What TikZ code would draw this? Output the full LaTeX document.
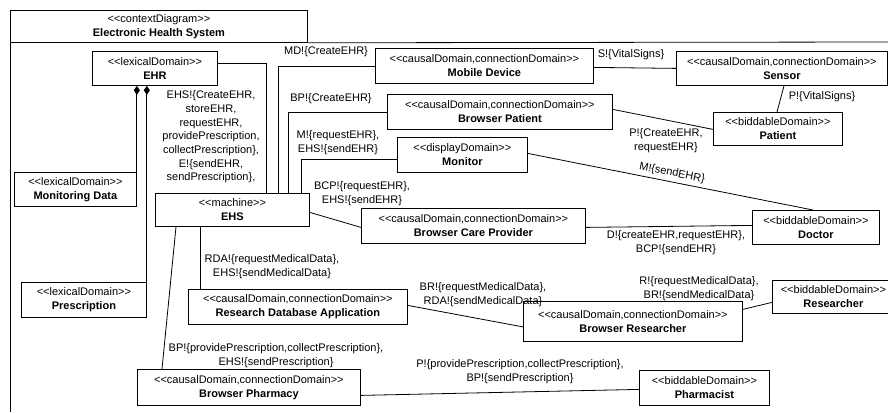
\documentclass[tikz,border=0pt]{standalone}
\usepackage{fontspec}
\setmainfont{Liberation Sans}
\usetikzlibrary{arrows.meta}
\newcommand\stereo[1]{<\kern0pt<#1>\kern0pt>}
\newcommand\fs{\fontsize{11}{13.7}\selectfont}
\begin{document}
\begin{tikzpicture}[x=1pt,y=-1pt,
  dom/.style={draw, line width=0.8pt, anchor=north west, inner sep=0pt, align=center, font=\fs},
  conn/.style={line width=0.8pt},
  lbl/.style={inner sep=0pt, align=center, font=\fs},
  diam/.style={conn, {Diamond[length=9pt,width=6pt]}-}]
\useasboundingbox (0,0) rectangle (888,412);
% frame
\node[dom, minimum width=297pt, minimum height=32pt] (hdr) at (10,10) {\stereo{contextDiagram}\\\textbf{Electronic Health System}};
\coordinate (fr) at (888,42);
\coordinate (fb) at (10,412);
\draw[conn] (hdr.south east) -- (fr);
\draw[conn] (hdr.south west) -- (fb);
% boxes
\node[dom, minimum width=125pt, minimum height=34pt] (ehr) at (92,51) {\stereo{lexicalDomain}\\\textbf{EHR}};
\node[dom, minimum width=122pt, minimum height=34pt] (mdata) at (14,172) {\stereo{lexicalDomain}\\\textbf{Monitoring Data}};
\node[dom, minimum width=125pt, minimum height=35pt] (pr) at (21,282) {\stereo{lexicalDomain}\\\textbf{Prescription}};
\node[dom, minimum width=154pt, minimum height=33pt] (ehs) at (155,193) {\stereo{machine}\\\textbf{EHS}};
\node[dom, minimum width=218pt, minimum height=35pt] (mob) at (375,48) {\stereo{causalDomain,connectionDomain}\\\textbf{Mobile Device}};
\node[dom, minimum width=211pt, minimum height=34pt] (sen) at (676,51) {\stereo{causalDomain,connectionDomain}\\\textbf{Sensor}};
\node[dom, minimum width=225pt, minimum height=35pt] (bpat) at (387,94) {\stereo{causalDomain,connectionDomain}\\\textbf{Browser Patient}};
\node[dom, minimum width=129pt, minimum height=33pt] (pat) at (713,112) {\stereo{biddableDomain}\\\textbf{Patient}};
\node[dom, minimum width=130pt, minimum height=35pt] (mon) at (397,137) {\stereo{displayDomain}\\\textbf{Monitor}};
\node[dom, minimum width=224pt, minimum height=35pt] (bcp) at (361,208) {\stereo{causalDomain,connectionDomain}\\\textbf{Browser Care Provider}};
\node[dom, minimum width=127pt, minimum height=34pt] (doc) at (752,210) {\stereo{biddableDomain}\\\textbf{Doctor}};
\node[dom, minimum width=219pt, minimum height=35pt] (rda) at (188,289) {\stereo{causalDomain,connectionDomain}\\\textbf{Research Database Application}};
\node[dom, minimum width=219pt, minimum height=40pt] (br) at (523,301) {\stereo{causalDomain,connectionDomain}\\\textbf{Browser Researcher}};
\node[dom, minimum width=122pt, minimum height=33pt] (res) at (772,280) {\stereo{biddableDomain}\\\textbf{Researcher}};
\node[dom, minimum width=223pt, minimum height=36pt] (bph) at (137,369) {\stereo{causalDomain,connectionDomain}\\\textbf{Browser Pharmacy}};
\node[dom, minimum width=130pt, minimum height=35pt] (pha) at (639,370) {\stereo{biddableDomain}\\\textbf{Pharmacist}};
% connectors
\draw[diam] (mdata.north east |- ehr.south) -- (mdata.north east);
\draw[diam] (pr.north east |- ehr.south) -- (pr.north east);
\draw[conn] ([yshift=5pt]ehr.east) -| ([xshift=111pt]ehs.north west);
\draw[conn] ([xshift=123pt]ehs.north west) |- (mob.west);
\draw[conn] ([xshift=133pt]ehs.north west) |- (bpat.west);
\draw[conn] ([xshift=146pt]ehs.north west) |- ([yshift=-4.5pt]mon.west);
\draw[conn] ([yshift=-2.5pt]ehs.east) -- ([yshift=-1.5pt]bcp.west);
\draw[conn] ([xshift=45pt]ehs.south west) -- ([xshift=12pt]rda.north west);
\draw[conn] ([xshift=21pt]ehs.south west) -- ([xshift=25pt]bph.north west);
\draw[conn] ([yshift=-1.5pt]mob.east) -- (sen.west);
\draw[conn] ([xshift=108pt]sen.south west) -- ([xshift=64pt]pat.north west);
\draw[conn] ([yshift=2.5pt]bpat.east) -- ([yshift=-0.5pt]pat.west);
\draw[conn] ([yshift=1.5pt]mon.east) -- ([xshift=61pt]doc.north west);
\draw[conn] ([yshift=-1.5pt]bcp.east) -- ([yshift=2pt]doc.west);
\draw[conn] ([yshift=1.5pt]rda.east) -- ([yshift=-5.5pt]br.west);
\draw[conn] ([yshift=12pt]br.east) -- ([yshift=-5.5pt]res.west);
\draw[conn] ([yshift=-8pt]bph.east) -- ([yshift=-1.5pt]pha.west);
% labels
\node[lbl] (l1) at (211,137) {EHS!\{CreateEHR,\\storeEHR,\\requestEHR,\\providePrescription,\\collectPrescription\},\\E!\{sendEHR,\\sendPrescription\},};
\node[lbl] (l2) at (326,52) {MD!\{CreateEHR\}};
\node[lbl] (l3) at (331,99) {BP!\{CreateEHR\}};
\node[lbl] (l4) at (338,142.5) {M!\{requestEHR\},\\EHS!\{sendEHR\}};
\node[lbl] (l5) at (362,193.5) {BCP!\{requestEHR\},\\EHS!\{sendEHR\}};
\node[lbl] (l6) at (272,267) {RDA!\{requestMedicalData\},\\EHS!\{sendMedicalData\}};
\node[lbl] (l7) at (276,355.5) {BP!\{providePrescription,collectPrescription\},\\EHS!\{sendPrescription\}};
\node[lbl] (l8) at (631,55) {S!\{VitalSigns\}};
\node[lbl] (l9) at (822,97) {P!\{VitalSigns\}};
\node[lbl] (l10) at (666,141) {P!\{CreateEHR,\\requestEHR\}};
\node[lbl, rotate=-11.3] (l11) at (672,173) {M!\{sendEHR\}};
\node[lbl] (l12) at (676,242.5) {D!\{createEHR,requestEHR\},\\BCP!\{sendEHR\}};
\node[lbl] (l13) at (483,295) {BR!\{requestMedicalData\},\\RDA!\{sendMedicalData\}};
\node[lbl] (l14) at (699,289) {R!\{requestMedicalData\},\\BR!\{sendMedicalData\}};
\node[lbl] (l15) at (520,371.5) {P!\{providePrescription,collectPrescription\},\\BP!\{sendPrescription\}};
\end{tikzpicture}
\end{document}
